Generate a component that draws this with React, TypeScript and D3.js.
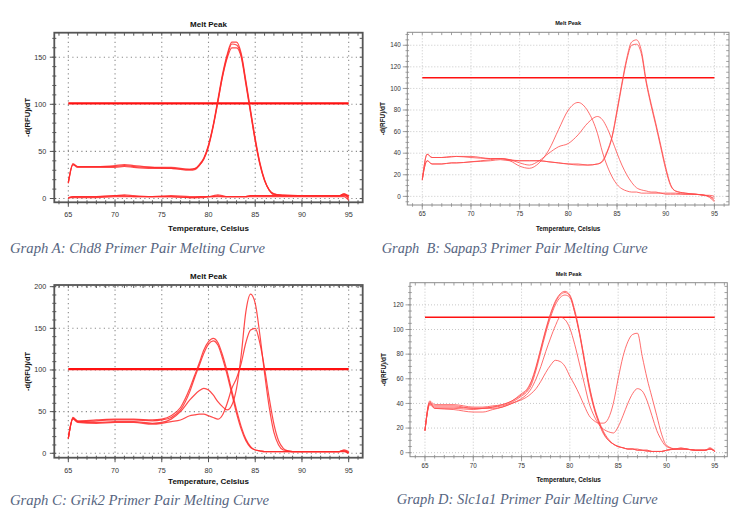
import React, { useEffect, useRef } from "react";
import * as d3 from "d3";

// ---- melt peak data: -d(RFU)/dT read at each temperature (Celsius) ----

// Graph A: Chd8
const tempsA = [65, 65.5, 66, 68, 70, 71, 72, 74, 76, 78, 78.6, 79, 79.5, 80, 80.5, 81, 81.5, 82, 82.5, 83, 83.5, 84, 84.5, 85, 85.5, 86, 86.5, 87, 87.5, 88, 90, 92, 94, 94.5, 95];
const chd8Run1 = [17, 37, 34, 34, 34, 35, 34, 33, 33, 31, 32, 36, 43, 57, 78, 105, 132, 153, 166, 166, 154, 125, 94, 64, 38, 20, 9, 5, 4, 4, 3, 3, 3, 4, 3];
const chd8Run2 = [16, 36, 34, 34, 35, 36, 35, 33, 32, 31, 32, 35, 42, 55, 76, 102, 130, 151, 164, 163, 152, 123, 92, 62, 37, 19, 9, 5, 4, 3, 3, 3, 3, 5, 1];
const chd8Run3 = [17, 36, 33, 33, 33, 34, 33, 32, 32, 30, 31, 35, 42, 56, 77, 103, 129, 149, 160, 160, 150, 121, 91, 61, 36, 19, 9, 4, 4, 3, 3, 3, 3, 3, 2];
const chd8Ntc1 = [0, 2, 2, 2, 3, 3, 2, 2, 3, 2, 2, 2, 2, 2, 2, 3, 2, 2, 2, 2, 2, 2, 3, 3, 3, 3, 3, 3, 3, 3, 3, 3, 3, 5, 3];
const chd8Ntc2 = [1, 2, 2, 2, 3, 4, 3, 2, 2, 1, 1, 2, 2, 2, 3, 4, 3, 2, 2, 2, 2, 2, 3, 3, 3, 3, 3, 3, 3, 3, 3, 3, 3, 4, 0];
const chd8Ntc3 = [1, 1, 1, 1, 2, 2, 2, 2, 2, 1, 1, 1, 1, 2, 2, 2, 2, 2, 2, 2, 2, 2, 2, 2, 2, 2, 2, 2, 2, 2, 2, 2, 2, 2, -2];

// Graph B: Sapap3
const tempsB = [65, 65.5, 66, 67, 68, 68.5, 70, 72, 73, 74, 75, 76, 77, 78, 79, 80, 81, 82, 83, 83.5, 84, 84.5, 85, 85.5, 86, 86.5, 87, 87.5, 88, 88.5, 89, 89.5, 90, 90.5, 91, 92, 93, 94, 94.5, 95];
const sapapRun1 = [15, 39, 36, 36, 36.5, 37, 36, 35, 35, 34, 33, 33, 33, 32, 31, 30, 30, 29, 30, 33, 42, 56, 80, 105, 128, 143, 145, 135, 107, 86, 67, 47, 27, 11, 5, 3, 2, 1, 0, -4];
const sapapRun2 = [16, 33, 30, 30, 31, 31, 32, 33, 34, 33, 33, 33, 33, 32, 31, 30, 29, 29, 30, 32, 41, 55, 78, 103, 126, 140, 141, 132, 105, 84, 65, 45, 25, 10, 5, 3, 2, 1, -1, -5];
const sapapRun3 = [15, 39, 36, 36, 37, 37, 37, 35, 35, 33, 28, 26, 31, 43, 62, 80, 87, 79, 58, 41, 28, 18, 11, 7, 5, 4, 4, 3, 3, 3, 3, 3, 2, 2, 2, 2, 2, 1, 1, 0];
const sapapRun4 = [16, 33, 30, 30, 31, 31, 32, 34, 35, 34, 31, 29, 33, 40, 46, 49, 57, 68, 74, 71, 63, 52, 40, 29, 20, 13, 8, 6, 5, 4, 4, 3, 3, 3, 3, 2, 2, 1, 0, -2];

// Graph C: Grik2
const tempsC = [65, 65.5, 66, 68, 70, 72, 74, 75, 76, 77, 78, 78.5, 79, 79.5, 80, 80.5, 81, 81.5, 82, 82.5, 83, 83.5, 84, 84.5, 85, 85.5, 86, 86.5, 87, 87.5, 88, 88.5, 89, 90, 92, 94, 94.5, 95];
const grikRun1 = [18, 43, 39, 40, 41, 41, 40, 41, 45, 55, 78, 93, 108, 124, 134, 138, 133, 118, 98, 75, 52, 32, 17, 8, 4, 3, 2, 2, 2, 2, 2, 2, 2, 2, 2, 2, 3, 1];
const grikRun2 = [18, 42, 38, 39, 40, 40, 39, 40, 43, 52, 74, 90, 105, 120, 131, 135, 130, 114, 94, 71, 48, 29, 15, 7, 4, 3, 2, 2, 2, 2, 2, 2, 2, 2, 2, 2, 2, 0];
const grikRun3 = [18, 42, 38, 37, 38, 38, 36, 37, 41, 50, 64, 70, 75, 78, 76, 70, 62, 56, 52, 58, 78, 118, 170, 191, 180, 142, 96, 55, 25, 10, 4, 3, 2, 2, 2, 2, 4, 2];
const grikRun4 = [18, 41, 37, 36, 37, 37, 35, 36, 38, 40, 45, 46, 47, 47, 45, 43, 41, 46, 60, 78, 90, 108, 133, 148, 150, 132, 102, 66, 35, 15, 6, 3, 2, 2, 2, 2, 3, 0];

// Graph D: Slc1a1
const tempsD = [65, 65.5, 66, 68, 70, 71, 72, 73, 74, 75, 75.5, 76, 76.5, 77, 77.5, 78, 78.5, 79, 79.5, 80, 80.5, 81, 81.5, 82, 82.5, 83, 83.5, 84, 84.5, 85, 85.5, 86, 86.5, 87, 87.5, 88, 88.5, 89, 89.5, 90, 91, 91.5, 92, 93, 94, 94.5, 95];
const slcRun1 = [18, 42, 39, 39, 37, 37, 38, 39, 42, 48, 51, 58, 70, 85, 100, 113, 123, 129, 131, 128, 116, 98, 76, 54, 37, 25, 16, 10, 7, 5, 4, 3, 3, 2, 2, 1, 1, 1, 1, 2, 3, 3, 3, 2, 2, 4, 1];
const slcRun2 = [18, 40, 37, 37, 36, 36, 37, 39, 42, 47, 50, 57, 69, 84, 99, 112, 122, 128, 130, 127, 114, 96, 74, 52, 36, 24, 15, 10, 7, 5, 4, 3, 3, 3, 2, 2, 1, 1, 1, 2, 3, 3, 3, 2, 2, 3, 2];
const slcRun3 = [18, 39, 36, 36, 35, 36, 37, 38, 41, 46, 49, 55, 67, 82, 97, 110, 120, 126, 128, 126, 114, 97, 76, 55, 38, 26, 17, 11, 7, 5, 4, 3, 3, 2, 2, 2, 1, 1, 1, 2, 3, 4, 3, 2, 2, 3, 1];
const slcRun4 = [18, 40, 36, 35, 33, 33, 35, 37, 40, 44, 47, 52, 60, 70, 82, 93, 103, 110, 108, 101, 88, 72, 56, 40, 30, 23, 19, 17, 16, 21, 30, 40, 48, 52, 50, 42, 30, 18, 10, 5, 3, 3, 3, 2, 2, 3, 1];
const slcRun5 = [18, 41, 38, 38, 36, 36, 36, 37, 40, 43, 45, 48, 52, 58, 65, 71, 75, 74, 70, 62, 55, 47, 38, 30, 26, 24, 24, 28, 40, 60, 78, 90, 96, 97, 78, 60, 45, 30, 15, 6, 3, 3, 3, 2, 2, 3, 1];

// melt peak threshold per plate
const thresholds = [101, 110, 101, 110];

const captions = [
  "Graph A: Chd8 Primer Pair Melting Curve",
  "Graph  B: Sapap3 Primer Pair Melting Curve",
  "Graph C: Grik2 Primer Pair Melting Curve",
  "Graph D: Slc1a1 Primer Pair Melting Curve",
];

const tempTicks = [65, 70, 75, 80, 85, 90, 95];

// layout / style for each software export (A,C are the "heavy" frame style)
const panels = [
  {
    temps: tempsA, runs: [chd8Run1, chd8Run2, chd8Run3, chd8Ntc1, chd8Ntc2, chd8Ntc3],
    box: [54.3, 32.7, 362.7, 202.3], xDomain: [63.5, 96.5], yDomain: [-4, 176], yStep: 50, yMinor: 10,
    heavy: true, titleY: 24, tickY: 214.5, xLabelY: 228, yLabelX: 27,
    tickFont: 7.2, labelFont: 8, caption: [10, 253], captionWidth: 255,
  },
  {
    temps: tempsB, runs: [sapapRun1, sapapRun2, sapapRun3, sapapRun4],
    box: [407.3, 32.3, 729, 205], xDomain: [63.46, 96.5], yDomain: [-8, 152], yStep: 20, yMinor: 5,
    heavy: false, titleY: 22.7, tickY: 214, xLabelY: 229, yLabelX: 383,
    tickFont: 6.3, labelFont: 6.4, caption: [381.7, 253], captionWidth: 266,
  },
  {
    temps: tempsC, runs: [grikRun1, grikRun2, grikRun3, grikRun4],
    box: [54.3, 285, 362.7, 457.7], xDomain: [63.5, 96.5], yDomain: [-5.3, 202], yStep: 50, yMinor: 10,
    heavy: true, titleY: 275.7, tickY: 470, xLabelY: 480.7, yLabelX: 27,
    tickFont: 7.2, labelFont: 8, caption: [10, 505], captionWidth: 259,
  },
  {
    temps: tempsD, runs: [slcRun1, slcRun2, slcRun3, slcRun4, slcRun5],
    box: [410, 282.7, 727.3, 456.7], xDomain: [63.45, 96.3], yDomain: [-3.25, 138], yStep: 20, yMinor: 5,
    heavy: false, titleY: 274, tickY: 465.5, xLabelY: 480, yLabelX: 384,
    tickFont: 6.3, labelFont: 6.4, caption: [396.7, 504], captionWidth: 261,
  },
];

function drawPanel(svg, p, threshold, caption) {
  const [x0, y0, x1, y1] = p.box;
  const x = d3.scaleLinear().domain(p.xDomain).range([x0, x1]);
  const y = d3.scaleLinear().domain(p.yDomain).range([y1, y0]);
  const heavy = p.heavy;
  const g = svg.append("g");
  const font = "Arial, 'Liberation Sans', sans-serif";

  const yTicks = d3.range(0, p.yDomain[1], p.yStep);
  const yMinor = d3.range(Math.ceil(p.yDomain[0] / p.yMinor) * p.yMinor, p.yDomain[1], p.yMinor);
  const xMinor = d3.range(Math.ceil(p.xDomain[0]), p.xDomain[1], 1);

  // dotted grid
  const grid = g.append("g")
    .attr("stroke", heavy ? "#8c8c8c" : "#c2c2c2")
    .attr("stroke-width", heavy ? 1.1 : 0.9)
    .attr("stroke-dasharray", heavy ? "1.2,3.3" : "1,2");
  grid.selectAll("line.v").data(tempTicks).join("line").attr("class", "v")
    .attr("x1", d => x(d)).attr("x2", d => x(d)).attr("y1", y0).attr("y2", y1);
  grid.selectAll("line.h").data(yTicks).join("line").attr("class", "h")
    .attr("x1", x0).attr("x2", x1).attr("y1", d => y(d)).attr("y2", d => y(d));

  // frame + ticks
  const frameColor = heavy ? "#555" : "#8a8a8a";
  const ticks = g.append("g").attr("stroke", frameColor).attr("stroke-width", heavy ? 1 : 0.8);
  const mt = heavy ? 2 : 1.8;
  ticks.selectAll("line.xb").data(xMinor).join("line").attr("class", "xb")
    .attr("x1", d => x(d)).attr("x2", d => x(d)).attr("y1", y1 - mt).attr("y2", y1 + mt);
  ticks.selectAll("line.xt").data(xMinor).join("line").attr("class", "xt")
    .attr("x1", d => x(d)).attr("x2", d => x(d)).attr("y1", y0).attr("y2", y0 + mt + 1);
  ticks.selectAll("line.yl").data(yMinor).join("line").attr("class", "yl")
    .attr("x1", x0 - mt).attr("x2", x0 + mt).attr("y1", d => y(d)).attr("y2", d => y(d));
  ticks.selectAll("line.yr").data(yMinor).join("line").attr("class", "yr")
    .attr("x1", x1 - mt - 1).attr("x2", x1).attr("y1", d => y(d)).attr("y2", d => y(d));
  ticks.selectAll("line.xM").data(tempTicks).join("line").attr("class", "xM")
    .attr("x1", d => x(d)).attr("x2", d => x(d)).attr("y1", y1).attr("y2", y1 + 4.5);
  ticks.selectAll("line.yM").data(yTicks).join("line").attr("class", "yM")
    .attr("x1", x0 - 4.5).attr("x2", x0).attr("y1", d => y(d)).attr("y2", d => y(d));

  g.append("rect")
    .attr("x", x0).attr("y", y0).attr("width", x1 - x0).attr("height", y1 - y0)
    .attr("fill", "none").attr("stroke", frameColor).attr("stroke-width", heavy ? 1.8 : 1);

  // tick labels
  g.append("g").selectAll("text").data(tempTicks).join("text")
    .attr("x", d => x(d)).attr("y", p.tickY).attr("dy", "0.35em")
    .attr("text-anchor", "middle").attr("font-family", font).attr("font-size", p.tickFont)
    .attr("fill", "#333").text(d => d);
  g.append("g").selectAll("text").data(yTicks).join("text")
    .attr("x", x0 - (heavy ? 8 : 6.5)).attr("y", d => y(d)).attr("dy", "0.35em")
    .attr("text-anchor", "end").attr("font-family", font).attr("font-size", p.tickFont)
    .attr("fill", "#333").text(d => d);

  // titles
  g.append("text").attr("x", (x0 + x1) / 2).attr("y", p.titleY).attr("dy", "0.35em")
    .attr("text-anchor", "middle").attr("font-family", font).attr("font-weight", "bold")
    .attr("font-size", p.labelFont * (heavy ? 1 : 0.88)).attr("fill", "#111").text("Melt Peak");
  g.append("text").attr("x", (x0 + x1) / 2).attr("y", p.xLabelY).attr("dy", "0.35em")
    .attr("text-anchor", "middle").attr("font-family", font).attr("font-weight", "bold")
    .attr("font-size", p.labelFont).attr("fill", "#111").text("Temperature, Celsius");
  g.append("text")
    .attr("transform", `translate(${p.yLabelX},${(y0 + y1) / 2}) rotate(-90)`)
    .attr("dy", "0.35em").attr("text-anchor", "middle").attr("font-family", font)
    .attr("font-weight", "bold").attr("font-size", p.labelFont * (heavy ? 0.95 : 1))
    .attr("fill", "#111").text("-d(RFU)/dT");

  // threshold line
  g.append("line")
    .attr("x1", x(65)).attr("x2", x(95)).attr("y1", y(threshold)).attr("y2", y(threshold))
    .attr("stroke", "#ff1010").attr("stroke-width", heavy ? 2.4 : 1.5);

  // melt curves
  const line = d3.line()
    .x((d, i) => x(p.temps[i]))
    .y(d => y(d))
    .curve(d3.curveMonotoneX);
  g.append("g").selectAll("path").data(p.runs).join("path")
    .attr("d", line)
    .attr("fill", "none")
    .attr("stroke", heavy ? "#ff2a2a" : "#ff4a4a")
    .attr("stroke-opacity", heavy ? 0.85 : 0.8)
    .attr("stroke-width", heavy ? 1.2 : 1);

  // caption under the chart
  g.append("text")
    .attr("x", p.caption[0]).attr("y", p.caption[1])
    .attr("font-family", "'Liberation Serif', 'Times New Roman', serif")
    .attr("font-style", "italic").attr("font-size", 15.5)
    .attr("textLength", p.captionWidth).attr("lengthAdjust", "spacingAndGlyphs")
    .attr("fill", "#56657f").style("white-space", "pre")
    .text(caption);
}

export default function App() {
  const ref = useRef(null);

  useEffect(() => {
    const svg = d3.select(ref.current);
    svg.selectAll("*").remove();
    svg.append("rect").attr("width", 750).attr("height", 515).attr("fill", "#fff");
    panels.forEach((p, i) => drawPanel(svg, p, thresholds[i], captions[i]));
  }, []);

  return (
    <svg
      ref={ref}
      width={750}
      height={515}
      style={{ position: "absolute", left: 0, top: 0 }}
    />
  );
}
